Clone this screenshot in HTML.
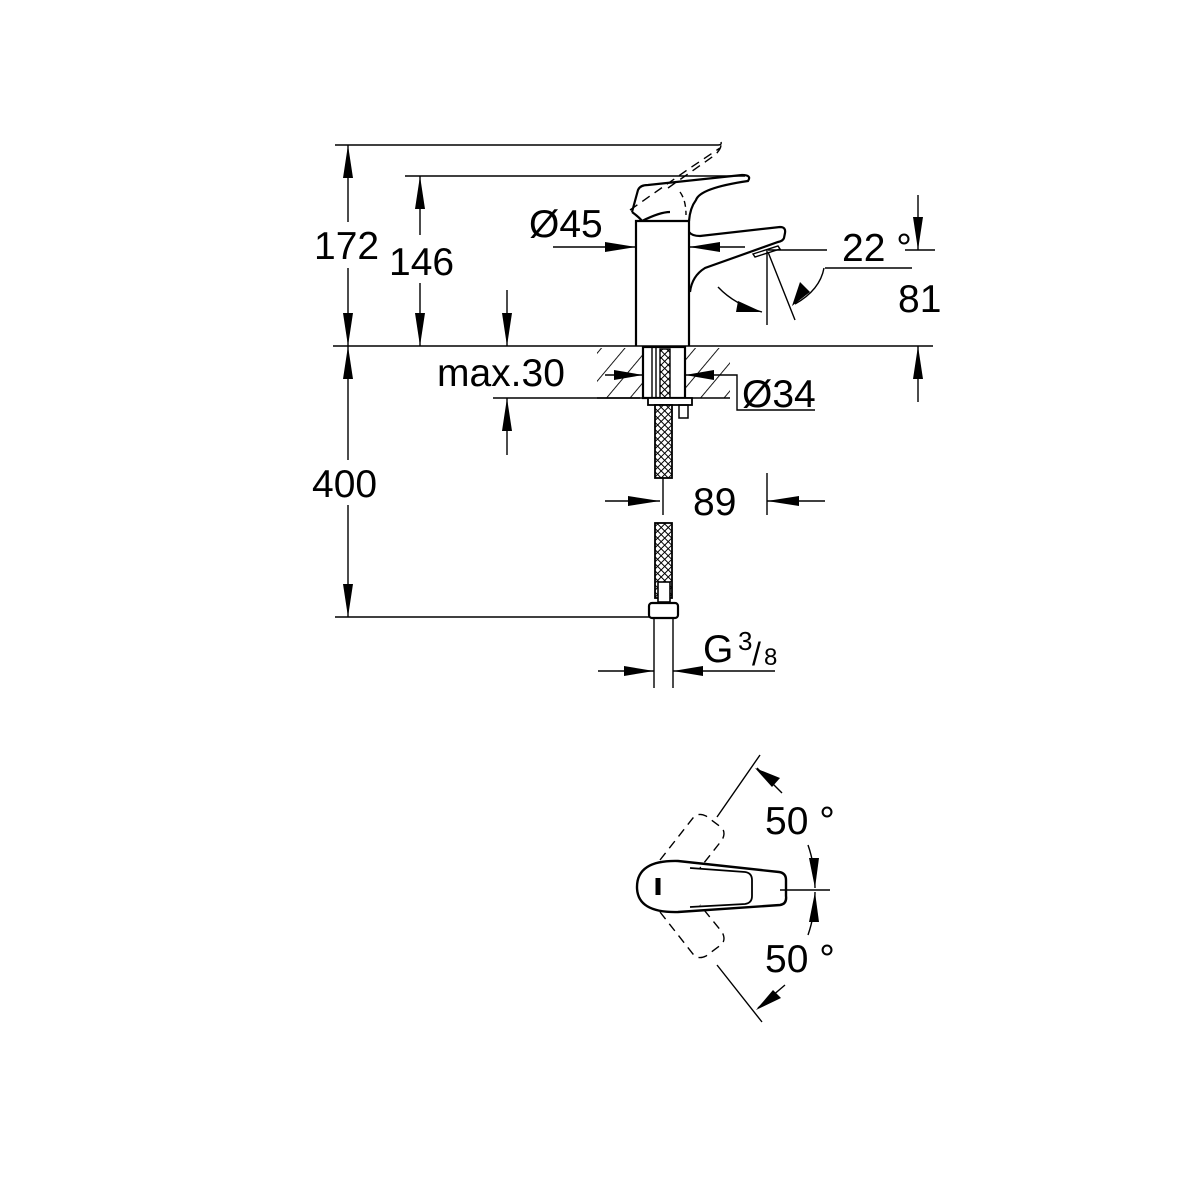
<!DOCTYPE html>
<html><head><meta charset="utf-8"><style>html,body{margin:0;padding:0;background:#fff}svg{display:block}text{font-family:"Liberation Sans",sans-serif;fill:#000}</style></head>
<body>
<svg width="1200" height="1200" viewBox="0 0 1200 1200" xmlns="http://www.w3.org/2000/svg">
<defs>
<pattern id="h" width="18" height="18" patternUnits="userSpaceOnUse" patternTransform="rotate(40)"><line x1="0" y1="0" x2="0" y2="18" stroke="#000" stroke-width="1.8"/></pattern>
<pattern id="br" width="5" height="5" patternUnits="userSpaceOnUse" patternTransform="rotate(45)"><rect width="5" height="5" fill="#fff"/><path d="M0 0H5M0 0V5" stroke="#000" stroke-width="2"/></pattern>
</defs>
<g stroke="#000" stroke-width="1.4" fill="none">
<path d="M335 145H718q4 0 3-3"/>
<path d="M405 176H745"/>
<path d="M333 346H933"/>
<path d="M335 617H660"/>
<path d="M493 398H640"/>
<path d="M348 145V222M348 268V346"/>
<path d="M420 176V235M420 283V346"/>
<path d="M348 346V460M348 505V617"/>
<path d="M507 290V346M507 398V455"/>
<path d="M636 346V221H689V346" stroke-width="2.2"/>
<path d="M632 212L638 190Q640 185 648 185L742 175Q752 175 748 181Q700 188 696 200Q690 208 689 221M642 221Q660 212 670 212" stroke-width="2.2"/>
<path d="M632 212Q640 218 642 221" stroke-width="2.2"/>
<path d="M680 192Q686 200 686 215" stroke-dasharray="6 4"/>
<path d="M630 210L690 168L720 148" stroke-dasharray="9 6"/>
<path d="M668 188L715 155Q725 145 718 142" stroke-dasharray="9 6"/>
<path d="M689 232Q692 236 700 236L780 227Q786 227 785 233L784 238Q783 241 778 242L705 268Q692 276 690 292" stroke-width="2.2"/>
<path d="M753 254L778 246L780 249L755 257Z"/>
<path d="M553 247H636M689 247H745"/>
<path d="M768 250H827M767 250V325M768 252L795 320M825 268H912"/>
<path d="M718 287Q735 305 762 312"/>
<path d="M824 268Q820 290 795 304"/>
<path d="M918 195V250M905 250H935M918 346V402"/>
<rect x="597" y="348" width="133" height="50" fill="url(#h)" stroke="none"/>
<path d="M597 398H730"/>
<rect x="643" y="347" width="42" height="51" fill="#fff" stroke-width="2.2"/>
<path d="M652 347V398M656 347V398"/>
<rect x="660" y="349" width="10" height="49" fill="url(#br)"/>
<path d="M605 375H643M685 375H737V410H815"/>
<rect x="648" y="398" width="44" height="7" fill="#fff" stroke-width="1.8"/>
<rect x="679" y="405" width="9" height="13" stroke-width="1.5"/>
<rect x="655" y="405" width="17" height="73" fill="url(#br)" stroke-width="1.8"/>
<path d="M663 478V515"/>
<rect x="655" y="523" width="17" height="75" fill="url(#br)" stroke-width="1.8"/>
<rect x="658" y="582" width="12" height="20" fill="#fff" stroke-width="1.6"/>
<rect x="649" y="603" width="29" height="15" rx="3" fill="#fff" stroke-width="2.2"/>
<path d="M654 618V688M673 618V688"/>
<path d="M605 501H660M767 473V515M767 501H825"/>
<path d="M598 671H654M673 671H775"/>
<path d="M678 861Q637 860 637 887Q637 913 678 912L780 905Q787 904 786 896V880Q786 873 779 872Z" stroke-width="2.4"/>
<path d="M690 868L745 872Q752 873 752 880V896Q752 903 745 904L690 907" stroke-width="1.8"/>
<path d="M658 878V895" stroke-width="5"/>
<path d="M660 860L693 818Q698 812 706 816L722 828Q726 833 722 840L700 868" stroke-dasharray="9 6"/>
<path d="M660 912L693 954Q698 960 706 956L722 944Q726 939 722 932L700 905" stroke-dasharray="9 6"/>
<path d="M717 817L760 755M717 965L762 1022"/>
<path d="M780 890H830"/>
<path d="M808 845Q815 865 815 888M808 935Q815 915 815 892"/>
<path d="M782 793L757 768M785 985L758 1008"/>
</g>
<g fill="#000" stroke="none">
<path d="M348 145L343 178H353Z"/><path d="M348 346L343 313H353Z"/>
<path d="M420 176L415 209H425Z"/><path d="M420 346L415 313H425Z"/>
<path d="M348 346L343 379H353Z"/><path d="M348 617L343 584H353Z"/>
<path d="M507 346L502 313H512Z"/><path d="M507 398L502 431H512Z"/>
<path d="M636 247L605 242V252Z"/><path d="M689 247L720 242V252Z"/>
<path d="M918 250L913 217H923Z"/><path d="M918 346L913 379H923Z"/>
<path d="M762 312L738 301L736 312Z"/><path d="M792 306L800 282L810 292Z"/>
<path d="M643 375L614 370V380Z"/><path d="M685 375L714 370V380Z"/>
<path d="M660 501L628 496V506Z"/><path d="M767 501L799 496V506Z"/>
<path d="M654 671L624 666V676Z"/><path d="M673 671L703 666V676Z"/>
<path d="M815 888L809 858H819Z"/><path d="M815 892L809 922H819Z"/>
<path d="M755 768L780 778L772 787Z"/><path d="M756 1010L773 990L781 998Z"/>
</g>
<g font-size="39">
<text x="314" y="259">172</text>
<text x="389" y="275">146</text>
<text x="312" y="497">400</text>
<text x="437" y="386">max.30</text>
<text x="529" y="237">Ø45</text>
<text x="842" y="261">22 °</text>
<text x="898" y="312">81</text>
<text x="742" y="407">Ø34</text>
<text x="693" y="515">89</text>
<text x="703" y="662">G</text>
<text x="765" y="834">50 °</text>
<text x="765" y="972">50 °</text>
</g>
<text x="738" y="650" font-size="26">3</text>
<text x="752" y="665" font-size="32">/</text>
<text x="764" y="665" font-size="24">8</text>
</svg>
</body></html>
